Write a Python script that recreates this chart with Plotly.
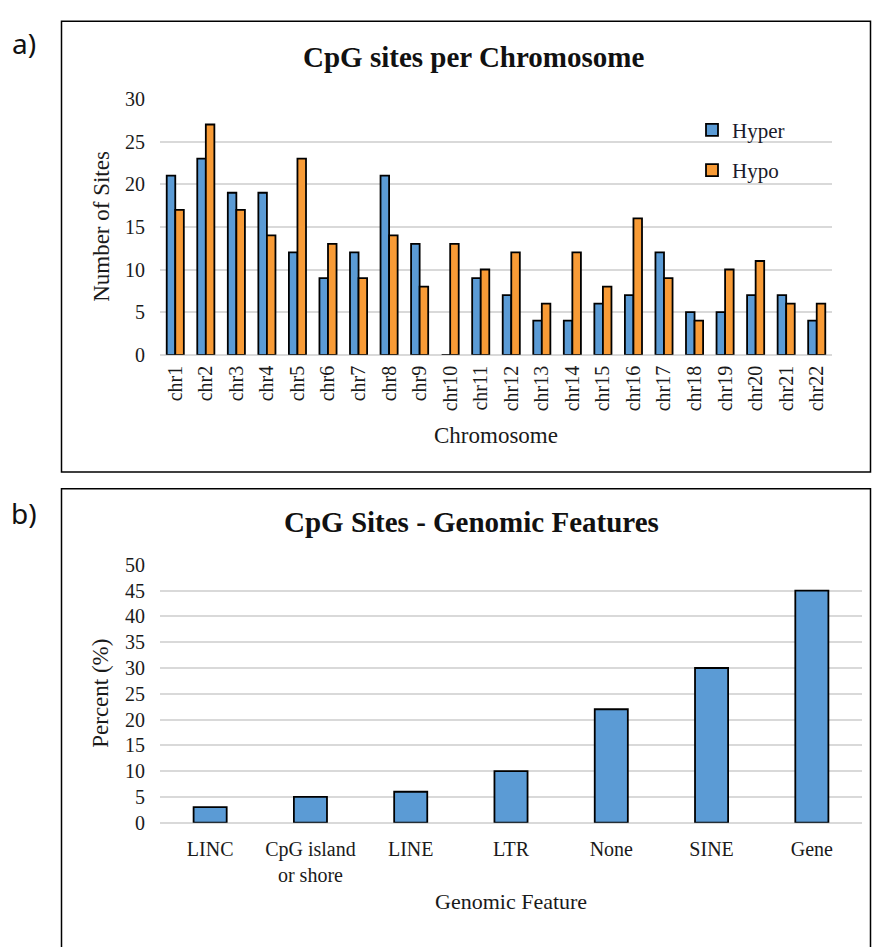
import plotly.graph_objects as go

W, H = 873, 947

# ---- data ----
chromosomes = [f"chr{i}" for i in range(1, 23)]
hyper = [21, 23, 19, 19, 12, 9, 12, 21, 13, 0, 9, 7, 4, 4, 6, 7, 12, 5, 5, 7, 7, 4]
hypo = [17, 27, 17, 14, 23, 13, 9, 14, 8, 13, 10, 12, 6, 12, 8, 16, 9, 4, 10, 11, 6, 6]

features = ["LINC", "CpG island<br>or shore", "LINE", "LTR", "None", "SINE", "Gene"]
percent = [3, 5, 6, 10, 22, 30, 45]

BLUE = "#5B9BD5"
ORANGE = "#F89B36"
SERIF = "Liberation Serif, Times New Roman, serif"


def X(px):
    return px / W


def Y(py):
    return (H - py) / H


fig = go.Figure()
fig.add_trace(go.Bar(x=chromosomes, y=hyper, name="Hyper", marker=dict(color=BLUE, line=dict(color="black", width=1.8)),
                     xaxis="x", yaxis="y", legendgroup="a"))
fig.add_trace(go.Bar(x=chromosomes, y=hypo, name="Hypo", marker=dict(color=ORANGE, line=dict(color="black", width=1.8)),
                     xaxis="x", yaxis="y", legendgroup="b"))
fig.add_trace(go.Bar(x=features, y=percent, name="Percent", showlegend=False,
                     marker=dict(color=BLUE, line=dict(color="black", width=1.8)),
                     xaxis="x2", yaxis="y2", width=0.33))

tickfont = dict(family=SERIF, size=20, color="#1a1a1a")
grid = "#D9D9D9"

fig.update_layout(
    width=W, height=H,
    margin=dict(l=0, r=0, t=0, b=0),
    paper_bgcolor="white", plot_bgcolor="white",
    barmode="group", bargap=0.44, bargroupgap=0,
    showlegend=True,
    legend=dict(x=X(692), y=Y(101), xanchor="left", yanchor="top",
                font=dict(family=SERIF, size=21, color="#1a1a2a"),
                traceorder="grouped", tracegroupgap=10, itemwidth=30,
                bgcolor="rgba(0,0,0,0)"),
    xaxis=dict(domain=[X(160), X(832)], anchor="y", tickangle=-90, tickfont=tickfont,
               showgrid=False, showline=False, ticks="", ticklabelstandoff=6),
    yaxis=dict(domain=[Y(352), Y(90)], anchor="x", range=[0, 30], dtick=5, tickfont=tickfont,
               showgrid=True, gridcolor=grid, gridwidth=1.5, zeroline=True, zerolinecolor=grid,
               zerolinewidth=1.5, showline=False, ticks="", ticklabelstandoff=14),
    xaxis2=dict(domain=[X(160), X(862)], anchor="y2", tickfont=tickfont,
                showgrid=False, showline=False, ticks="", ticklabelstandoff=12),
    yaxis2=dict(domain=[Y(831), Y(567)], anchor="x2", range=[0, 50], dtick=5, tickfont=tickfont,
                showgrid=True, gridcolor=grid, gridwidth=1.5, zeroline=True, zerolinecolor=grid,
                zerolinewidth=1.5, showline=False, ticks="", ticklabelstandoff=14),
)

ann = [
    dict(text="<b>CpG sites per Chromosome</b>", x=X(474), y=Y(47), font=dict(family=SERIF, size=29, color="#111")),
    dict(text="Chromosome", x=X(496), y=Y(435), font=dict(family=SERIF, size=23, color="#1a1a1a")),
    dict(text="Number of Sites", x=X(102), y=Y(221), textangle=-90, font=dict(family=SERIF, size=23, color="#1a1a1a")),
    dict(text="<b>CpG Sites - Genomic Features</b>", x=X(472), y=Y(523), font=dict(family=SERIF, size=29, color="#111")),
    dict(text="Genomic Feature", x=X(511), y=Y(912), font=dict(family=SERIF, size=22, color="#1a1a1a")),
    dict(text="Percent (%)", x=X(101), y=Y(699), textangle=-90, font=dict(family=SERIF, size=23, color="#1a1a1a")),
    dict(text="a)", x=X(24), y=Y(33), font=dict(family="Noto Sans", size=28, color="#111")),
    dict(text="b)", x=X(24), y=Y(514), font=dict(family="Noto Sans", size=28, color="#111")),
]
for a in ann:
    a.update(xref="paper", yref="paper", showarrow=False, xanchor="center", yanchor="middle")
fig.update_layout(annotations=ann)

fig.update_layout(shapes=[
    dict(type="rect", xref="paper", yref="paper", x0=X(61.5), x1=X(870.5), y0=Y(472), y1=Y(10.5),
         line=dict(color="black", width=1.5)),
    dict(type="rect", xref="paper", yref="paper", x0=X(61.5), x1=X(870.5), y0=Y(960), y1=Y(489),
         line=dict(color="black", width=1.5)),
])

fig.write_html("out.html")
